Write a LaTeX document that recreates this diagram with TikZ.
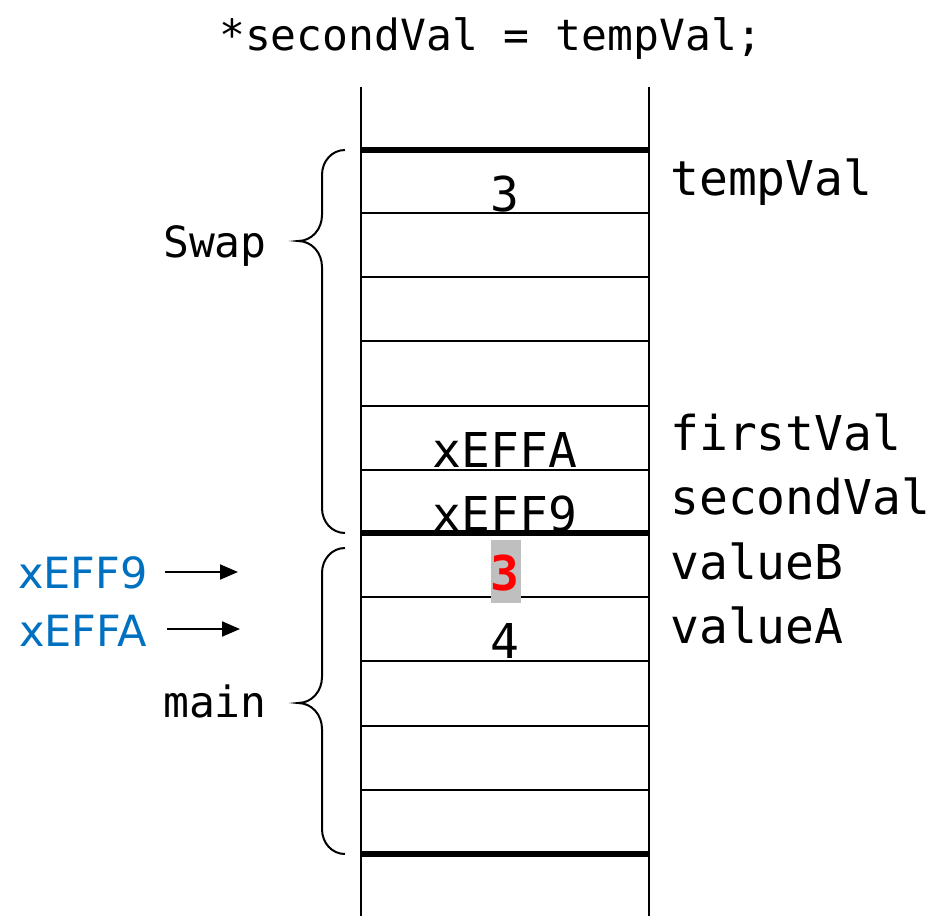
\documentclass[tikz,border=0pt]{standalone}
\usepackage{fontspec}
\setmonofont{DejaVu Sans Mono}
\newfontfamily\ptrfont{DejaVu Sans}
\usetikzlibrary{arrows.meta}
\definecolor{ptrblue}{RGB}{0,112,192}
\tikzset{
  cell/.style={font=\ttfamily\fontsize{48}{48}\selectfont, anchor=base, inner sep=0pt},
  varname/.style={font=\ttfamily\fontsize{48}{48}\selectfont, anchor=base west, inner sep=0pt},
  framename/.style={font=\ttfamily\fontsize{43}{43}\selectfont, anchor=base, inner sep=0pt},
  ptr/.style={font=\ptrfont\fontsize{43}{43}\selectfont, text=ptrblue, anchor=base east, inner sep=0pt},
  thinrow/.style={line width=2pt},
  thickrow/.style={line width=6pt},
  ptrarrow/.style={-{Triangle[length=18pt, width=15pt]}, line width=2pt},
}
% brace of a stack frame: top, tip, bottom (y in px)
\newcommand{\framebrace}[3]{%
  \draw[line width=2pt] (345,#1) .. controls (332,#1) and (322,{#1+11}) .. (322,{#1+25})
    -- (322,{#2-26}) .. controls (322,{#2-12}) and (312,#2) .. (298,#2)
    .. controls (312,#2) and (322,{#2+12}) .. (322,{#2+26})
    -- (322,{#3-25}) .. controls (322,{#3-11}) and (332,#3) .. (345,#3);}
\begin{document}
\begin{tikzpicture}[x=1pt, y=-1pt]
    \useasboundingbox (0,0) rectangle (936,916);
    \node[framename] (code) at (491,50) {*secondVal = tempVal;};

    % stack walls and rows
    \draw[line width=2pt] (361,87) -- (361,916);
    \draw[line width=2pt] (649,87) -- (649,916);
    \foreach \y in {213,277,341,406,470,597,661,726,790}
        \draw[thinrow] (361,\y) -- (649,\y);

    % cell contents
    \node[cell] (tmp) at (505,211) {3};
    \node[cell] (first) at (505,467) {xEFFA};
    \node[cell] (second) at (505,531) {xEFF9};
    \node[cell] (valA) at (505,658) {4};

    \foreach \y in {150,533,854}
        \draw[thickrow] (361,\y) -- (649,\y);

    \fill[gray!50] (491,540) rectangle (521,603);
    \node[cell, text=red, font=\ttfamily\bfseries\fontsize{48}{48}\selectfont] (valB) at (505,590) {3};

    % variable names
    \node[varname] (nTemp) at (670,195) {tempVal};
    \node[varname] (nFirst) at (670,450) {firstVal};
    \node[varname] (nSecond) at (670,514) {secondVal};
    \node[varname] (nValB) at (670,579) {valueB};
    \node[varname] (nValA) at (670,643) {valueA};

    % frames
    \framebrace{150}{241}{533}
    \framebrace{548}{703}{854}
    \node[framename] (swap) at (215,257) {Swap};
    \node[framename] (main) at (215,717) {main};

    % addresses
    \node[ptr] (adrB) at (148,588) {xEFF9};
    \node[ptr] (adrA) at (147,646) {xEFFA};
    \coordinate (adrBend) at (238,572);
    \coordinate (adrAend) at (240,629);
    \draw[ptrarrow, shorten <=17pt] (adrB.east |- adrBend) -- (adrBend);
    \draw[ptrarrow, shorten <=20pt] (adrA.east |- adrAend) -- (adrAend);
\end{tikzpicture}
\end{document}
